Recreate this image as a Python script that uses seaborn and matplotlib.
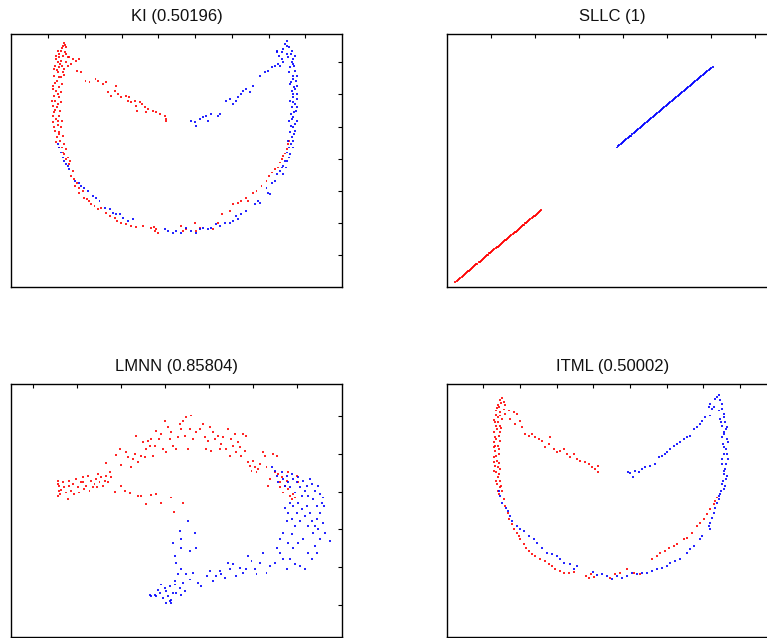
import pandas as pd
import numpy as np
import matplotlib
matplotlib.use("Agg")
import matplotlib.pyplot as plt
import seaborn as sns

sns.set_style("white")
plt.rcParams['font.family'] = ['Liberation Sans', 'DejaVu Sans']

# --- dados (unidades arbitrarias, eixo y invertido) ---

ki_red = [
    (195,128),(190,135),(200,140),(185,150),(178,160),(192,165),(205,170),(170,175),(185,180),(200,185),
    (168,195),(180,200),(195,205),(175,215),(165,225),(185,230),(172,240),(162,255),(180,260),(170,270),
    (163,285),(178,290),(168,300),(185,305),(160,315),(172,320),(165,335),(180,345),(170,355),(162,365),
    (176,372),(185,380),(168,390),(180,400),(172,410),(190,405),(182,420),(195,430),(178,440),(200,445),
    (190,455),(175,185),(188,195),(165,205),(190,215),(180,170),
    (198,132),(188,142),(176,152),(196,155),(170,165),(200,160),(182,190),(207,195),(172,208),(195,222),
    (178,228),(168,248),(188,250),(160,265),(175,280),(185,275),(158,300),(176,310),(168,328),(182,330),
    (160,345),(175,360),(188,362),(165,380),(178,395),(170,425),(188,440),(195,460),(200,475),(212,480),
    (205,470),(210,490),(220,510),(215,525),(225,535),(232,545),(228,555),(240,560),(238,575),(250,570),
    (255,590),(262,595),(268,600),(275,610),(285,615),(295,625),(305,620),(320,635),(330,645),(345,650),
    (352,660),(365,665),(380,670),(395,675),(410,678),(430,675),(455,680),(465,690),(470,685),(475,695),
    (462,678),
    (545,675),(550,690),(560,685),(585,665),(590,690),(600,680),(640,685),(655,665),
    (668,640),(690,630),(700,610),(715,605),(725,600),(740,590),(745,600),(760,575),(770,570),(785,555),
    (800,540),(808,525),(815,515),(825,505),(835,500),(840,485),(845,475),(850,465),(855,458),(860,445),
    (865,430),(868,420),
    (210,170),(220,175),(230,180),(240,175),(215,190),(232,210),(245,215),(258,240),(270,245),(288,235),
    (295,240),(310,250),(320,245),(325,275),(335,285),(345,270),(355,280),(365,290),(380,285),(385,300),
    (395,305),(405,300),(410,315),(420,305),(428,310),(412,330),(435,318),(445,325),(460,330),(470,335),
    (480,340),(495,345),(500,355),(498,362),(440,335),(388,290),(350,255),
]
ki_blue = [
    (860,122),(855,130),(868,140),(830,150),(845,155),(872,160),(865,170),(880,175),(850,185),(875,185),
    (882,195),(840,195),(870,200),(885,210),(878,225),(888,240),(870,250),(883,258),(875,270),(890,280),
    (880,290),(870,300),(885,310),(875,320),(888,330),(872,340),(880,350),(868,360),(885,370),(878,380),
    (870,395),(882,400),(875,410),(865,420),(872,430),(868,440),(860,455),(866,470),(855,480),(850,495),
    (845,500),(840,510),
    (862,135),(850,145),(875,150),(860,160),(885,165),(878,190),(866,215),(890,225),(880,235),(872,245),
    (892,255),(885,265),(878,280),(892,295),(878,305),(890,320),(882,335),(876,355),(890,360),(873,375),
    (885,390),(878,420),(880,440),(870,460),(862,480),(858,500),(848,520),
    (830,520),(825,540),(815,545),(800,560),(805,575),(810,580),(775,600),(780,605),(765,610),(740,630),
    (725,640),(710,645),(715,655),(700,660),(690,665),(675,665),(660,675),(650,670),(635,680),(625,685),
    (610,680),(600,685),(590,695),(575,690),(560,680),(545,695),(530,690),(520,695),(505,690),(495,685),
    (400,655),(385,660),(370,650),(360,640),(350,640),(340,635),(330,625),(315,620),(300,600),(290,590),
    (280,585),(265,570),(255,560),(245,555),(238,545),(228,540),(210,505),(205,495),(200,490),(195,480),
    (190,470),(185,455),(180,440),(175,430),
    (575,360),(585,365),(590,375),(600,355),(610,350),(618,345),(625,360),(635,340),(655,345),(662,340),
    (680,300),(690,295),(700,310),(710,300),(715,290),(725,280),(730,270),(740,265),(750,275),(760,255),
    (780,225),(795,215),(805,210),(815,200),(825,195),(835,190),(845,175),(830,155),(838,165),
]

sllc_red = [
    (105,843),(109,840),(112,837),(116,834),(120,831),(124,827),(127,825),(130,822),(133,820),(137,816),
    (140,814),(143,811),(146,809),(149,806),(152,804),(155,801),(158,799),(162,795),(165,793),(168,790),
    (171,788),(175,784),(178,782),(181,779),(184,777),(187,774),(190,772),(194,768),(197,766),(200,763),
    (203,761),(207,757),(210,755),(213,753),(216,750),(219,748),(222,745),(226,742),(229,739),(232,737),
    (235,734),(238,731),(241,729),(245,726),(248,723),(251,721),(254,718),(257,716),(260,713),(264,710),
    (267,707),(270,705),(273,702),(277,699),(280,697),(283,694),(286,692),(289,689),(292,687),(296,683),
    (299,681),(302,678),(305,676),(308,673),(311,671),(315,667),(318,665),(321,662),(324,660),(327,657),
    (330,655),(334,651),(337,649),(340,646),(343,644),(346,641),(349,639),(353,635),(356,633),(359,630),
    (362,628),
]
sllc_blue = [
    (590,440),(594,437),(597,434),(601,431),(604,428),(608,425),(611,422),(615,419),(618,416),(622,413),
    (625,410),(629,407),(632,405),(636,401),(640,398),(643,395),(647,392),(650,389),(654,386),(658,383),
    (661,380),(665,377),(668,374),(672,371),(675,368),(679,365),(682,362),(686,359),(690,356),(693,353),
    (697,350),(700,347),(704,344),(708,341),(711,338),(715,335),(718,332),(722,329),(725,326),(729,323),
    (732,320),(736,317),(740,314),(743,311),(747,308),(750,305),(754,302),(758,299),(761,296),(765,293),
    (768,290),(772,287),(775,284),(779,281),(782,278),(786,275),(790,271),(793,268),(797,266),(800,263),
    (804,260),(808,256),(811,254),(815,250),(818,248),(822,244),(825,242),(829,239),(832,236),(836,233),
    (840,229),(843,227),(847,223),(850,221),(854,217),(858,214),(861,212),(865,208),(868,206),(872,202),
    (877,198),
]

lmnn_red = [
    (175,425),(180,440),(178,455),(175,470),(182,465),(190,430),(195,445),(200,460),(205,480),(210,440),
    (215,455),(220,435),(225,465),(230,420),(235,445),(240,460),(245,430),(250,415),(255,450),(260,440),
    (265,410),(270,455),(275,425),(280,445),(285,435),(290,420),(295,405),(300,430),(305,415),(310,440),
    (315,425),(320,410),(325,430),(330,400),(333,415),(177,435),(186,452),(208,425),(252,428),(292,445),
    (345,458),(365,442),(375,455),(390,462),(415,470),(425,470),(440,495),(455,468),(470,465),(485,490),
    (515,475),(522,518),(550,490),
    (320,372),(348,348),(360,330),(365,378),(380,340),(385,355),(395,385),(400,360),(405,345),(410,292),
    (415,370),(425,350),(430,310),(435,355),(440,330),(445,305),(450,320),(455,300),(460,350),(465,320),
    (470,275),(478,300),(485,285),(490,330),(495,245),(500,340),(505,265),(510,300),(515,280),(520,320),
    (530,330),(535,295),(540,255),(545,270),(550,245),(555,290),(560,235),(565,330),(570,270),(575,230),
    (580,300),(590,280),(600,270),(610,255),(615,295),(620,330),(625,305),(630,265),(635,335),(640,280),
    (645,300),(655,290),(660,330),(665,315),(670,295),(680,330),(685,270),(690,350),(695,300),(700,320),
    (705,285),(710,340),(715,310),(720,325),(725,350),(730,285),(735,335),(740,290),(745,370),(750,380),
    (755,395),(760,365),(765,385),(770,400),(775,390),(780,375),(790,340),(795,350),(800,385),(805,440),
    (810,420),(820,345),(825,400),(830,350),(835,405),(840,430),(845,415),(850,460),(855,440),(860,425),
    (865,400),(870,470),(875,480),(880,465),(885,475),(890,410),(895,430),(840,445),(865,450),
]
lmnn_blue = [
    (815,385),(825,395),(830,410),(835,430),(845,400),(850,420),(855,440),(860,410),(865,430),(870,445),
    (875,405),(880,420),(885,460),(890,430),(895,415),(900,445),(905,470),(910,425),(915,455),(920,440),
    (925,470),(930,420),(935,435),(940,480),(945,455),(950,500),(955,440),(960,465),(965,490),(970,475),
    (972,500),(968,550),(960,520),(955,570),(950,540),(945,560),(940,580),(935,545),(930,520),(925,560),
    (920,500),(915,530),(905,510),(900,545),(895,490),(890,520),(885,560),(880,500),(875,540),(870,490),
    (865,520),(860,545),(855,505),(850,580),(840,600),(865,610),(875,585),(880,625),(895,610),(910,600),
    (925,640),(945,620),(960,600),(975,580),(990,605),(950,640),(935,660),(915,690),(900,680),(885,675),
    (870,660),(860,690),(850,660),(840,640),(830,625),(825,670),(810,680),(800,700),(790,640),(780,670),
    (770,705),(765,690),(755,665),(745,650),(740,690),(730,700),(720,685),(710,710),(700,675),(690,690),
    (685,670),(675,715),(665,705),(660,695),(650,710),(640,725),(630,695),(622,710),
    (605,740),(595,730),(580,700),(570,720),(560,705),(550,730),(540,745),(535,705),(525,725),(520,760),
    (515,780),(510,785),(505,770),(500,755),(495,745),(490,775),(485,735),(480,760),(475,750),(470,770),
    (465,765),(455,770),(450,765),(510,740),(525,735),(530,760),(545,765),(555,755),(500,790),(515,790),
    (520,610),(525,650),(528,670),(540,575),(545,600),(545,625),(565,545),(570,635),(585,580),(590,625),
    (545,690),
]

itml_red = [
    (245,178),(240,185),(250,190),(232,200),(255,200),(228,215),(240,220),(232,235),(245,240),(225,250),
    (238,260),(230,270),(222,280),(235,290),(228,300),(220,310),(232,320),(225,335),(235,345),(222,355),
    (230,365),(225,380),(238,390),(228,400),(232,415),(240,425),(230,435),(238,445),(245,455),(235,465),
    (236,205),(226,228),(242,268),(224,322),(236,372),
    (242,192),(230,208),(250,212),(238,230),(222,242),(234,250),(228,262),(240,280),(225,295),(238,305),
    (222,325),(235,330),(228,350),(220,368),(233,385),(222,395),(236,405),(228,425),(242,440),(232,455),
    (250,480),(255,500),(262,520),(265,540),(275,555),(280,570),(290,580),(295,590),(300,600),(310,615),
    (318,625),(325,635),(335,645),(345,650),(360,660),(375,665),(385,675),(395,680),(405,690),(420,695),
    (430,700),(445,700),(460,698),(498,710),(505,715),(512,705),(520,712),
    (570,715),(585,705),(600,700),(620,690),(640,700),(660,705),
    (695,660),(710,650),(720,640),(735,635),(745,625),(760,620),(770,615),(790,600),(800,595),(815,580),
    (830,560),(840,550),(850,540),(860,525),(870,510),(880,495),(885,485),(890,475),
    (255,225),(265,215),(280,220),(290,225),(270,240),(285,255),(300,245),(305,265),(315,285),(325,290),
    (335,285),(345,295),(355,300),(365,305),(375,325),(385,315),(390,295),(400,330),(410,340),(420,335),
    (430,330),(440,345),(450,355),(460,345),(470,360),(480,365),(495,370),(505,375),(515,385),(525,390),
    (532,380),(533,398),
]
itml_blue = [
    (895,170),(885,180),(900,185),(870,195),(880,205),(905,210),(895,215),(910,225),(870,230),(900,240),
    (915,250),(905,260),(918,270),(910,285),(920,300),(908,315),(918,330),(910,345),(922,360),(905,375),
    (915,390),(910,405),(918,420),(905,435),(912,450),(900,465),(895,480),(890,490),(885,505),(880,520),
    (875,535),(870,550),(865,560),(868,570),
    (890,175),(905,195),(875,210),(912,235),(902,250),(920,265),(912,280),(905,295),(922,310),(912,325),
    (920,345),(905,360),(918,375),(912,395),(920,410),(908,425),(915,440),(902,455),(895,470),
    (845,590),(840,600),(820,620),(810,630),(800,640),(780,660),(765,665),(750,670),(740,680),(725,685),
    (710,690),(695,695),(680,700),(665,700),(650,705),(635,700),(620,710),(605,715),(590,710),(575,718),
    (560,710),(545,705),(530,708),(518,698),
    (470,680),(460,690),(450,675),(430,670),(420,660),(410,650),(395,645),(380,640),(365,625),(350,610),
    (340,600),(325,590),(310,575),(300,570),(290,560),(275,545),(270,530),(262,515),(258,505),(245,490),
    (240,470),(235,455),
    (622,400),(630,402),(638,415),(645,395),(655,400),(665,390),(675,385),(690,380),(705,375),(715,355),
    (725,350),(735,345),(740,340),(750,330),(760,320),(770,315),(780,310),(790,300),(800,295),(810,290),
    (820,270),(830,265),(840,255),(845,245),(855,235),(865,205),
]

titles = ['KI (0.50196)', 'SLLC (1)', 'LMNN (0.85804)', 'ITML (0.50002)']

# limites e ticks de cada painel (mesmas unidades dos dados)
xlims = [(35, 1026), (80, 1073), (35, 1026), (80, 1073)]
ylims = [(858, 100), (858, 100), (891, 135), (891, 135)]
xticks = [[147, 257, 366, 476, 586, 696, 806, 916],
          [212, 344, 476, 608, 740, 872, 1004],
          [100, 232, 364, 496, 628, 760, 892],
          [189, 299, 409, 519, 629, 739, 849, 959]]
yticks = [[185, 281, 378, 474, 570, 666, 762],
          [113, 233, 353, 474, 594, 714, 834],
          [232, 345, 458, 570, 683, 796],
          [220, 316, 412, 508, 605, 700, 797]]

paineis = [(ki_red, ki_blue), (sllc_red, sllc_blue), (lmnn_red, lmnn_blue), (itml_red, itml_blue)]

# posicao dos eixos (a figura original esta cortada a direita)
w, h = 331 / 767, 253 / 638
posicoes = [(11 / 767, 1 - 287 / 638, w, h), (447 / 767, 1 - 287 / 638, w, h),
            (11 / 767, 0.002, w, h), (447 / 767, 0.002, w, h)]

fig = plt.figure(figsize=(7.67, 6.38), dpi=100)

for i, (red, blue) in enumerate(paineis):
    ax = fig.add_axes(posicoes[i])
    df = pd.DataFrame(red + blue, columns=['x', 'y'])
    df['classe'] = ['r'] * len(red) + ['b'] * len(blue)
    sns.scatterplot(data=df, x='x', y='y', hue='classe', palette={'r': '#ff0000', 'b': '#0000ff'},
                    s=2, linewidth=0, marker='s', alpha=0.85, legend=False, ax=ax)
    ax.set_xlim(xlims[i])
    ax.set_ylim(ylims[i])
    ax.set_xticks(xticks[i])
    ax.set_yticks(yticks[i])
    ax.tick_params(direction='in', top=True, right=True, length=3, width=0.8,
                   labelbottom=False, labelleft=False, color='black')
    ax.set_xlabel('')
    ax.set_ylabel('')
    for sp in ax.spines.values():
        sp.set_color('black')
        sp.set_linewidth(1.0)
    ax.set_title(titles[i], fontsize=12, pad=9, color='#111111')

fig.savefig('out.png', dpi=100)
